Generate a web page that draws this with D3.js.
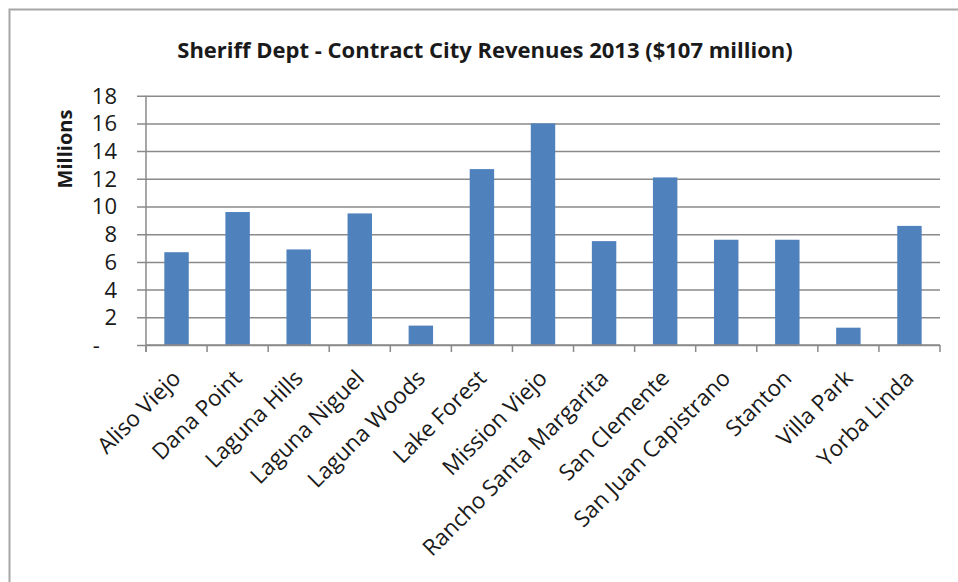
<!DOCTYPE html>
<html>
<head>
<meta charset="utf-8">
<script src="https://cdn.jsdelivr.net/npm/d3@7"></script>
<style>
  html, body { margin: 0; padding: 0; background: #fff; }
  svg { display: block; }
  text { font-family: "Open Sans", "Noto Sans", sans-serif; fill: #1a1a1a; }
</style>
</head>
<body>
<svg id="chart" width="958" height="582"></svg>
<script>
// Contract city revenues, in millions of dollars
const cities = [
  "Aliso Viejo", "Dana Point", "Laguna Hills", "Laguna Niguel", "Laguna Woods",
  "Lake Forest", "Mission Viejo", "Rancho Santa Margarita", "San Clemente",
  "San Juan Capistrano", "Stanton", "Villa Park", "Yorba Linda"
];
const revenues = [6.7, 9.6, 6.9, 9.5, 1.4, 12.7, 16.0, 7.5, 12.1, 7.6, 7.6, 1.25, 8.6];
const yTicks = [0, 2, 4, 6, 8, 10, 12, 14, 16, 18];
const yTickLabels = ["-", "2", "4", "6", "8", "10", "12", "14", "16", "18"];

const titleText = "Sheriff Dept - Contract City Revenues 2013 ($107 million)";
const yTitleText = "Millions";

const W = 958, H = 582;
const plot = { left: 146, right: 940, top: 95.7, bottom: 345 };
const gridColor = "#8a8a8a";
const barColor = "#4f81bd";

const svg = d3.select("#chart");

// outer chart frame (runs off the right and bottom edges)
svg.append("path")
  .attr("d", `M9.5,${H + 2} V9.5 H${W + 2}`)
  .attr("fill", "none")
  .attr("stroke", "#a6a6a6")
  .attr("stroke-width", 2);

const x = d3.scaleBand()
  .domain(cities)
  .range([plot.left, plot.right])
  .paddingInner(0.6)
  .paddingOuter(0.3);

const y = d3.scaleLinear()
  .domain([0, 18])
  .range([plot.bottom, plot.top]);

// horizontal gridlines, extended left past the axis as tick marks
const yAxis = d3.axisLeft(y)
  .tickValues(yTicks)
  .tickSize(plot.right - plot.left + 9)
  .tickFormat("");

const gy = svg.append("g")
  .attr("transform", `translate(${plot.right},0)`)
  .call(yAxis);
gy.select(".domain").remove();
gy.selectAll(".tick line")
  .attr("stroke", gridColor)
  .attr("stroke-width", 1.5);

// y tick labels
svg.append("g")
  .selectAll("text")
  .data(yTicks)
  .join("text")
  .attr("x", 117)
  .attr("y", d => y(d))
  .attr("dy", "0.36em")
  .attr("text-anchor", "end")
  .attr("font-size", 22)
  .text((d, i) => i === 0 ? yTickLabels[i] + "\u00a0\u00a0\u00a0" : yTickLabels[i]);

// bars
svg.append("g")
  .selectAll("rect")
  .data(revenues)
  .join("rect")
  .attr("x", (d, i) => x(cities[i]))
  .attr("y", d => y(d))
  .attr("width", x.bandwidth())
  .attr("height", d => y(0) - y(d))
  .attr("fill", barColor);

// category axis: baseline plus boundary tick marks
const step = x.step();
const boundaries = d3.range(cities.length + 1).map(i => plot.left + i * step);
svg.append("line")
  .attr("x1", plot.left).attr("x2", plot.right)
  .attr("y1", plot.bottom).attr("y2", plot.bottom)
  .attr("stroke", gridColor).attr("stroke-width", 1.5);
svg.append("g")
  .selectAll("line")
  .data(boundaries)
  .join("line")
  .attr("x1", d => d).attr("x2", d => d)
  .attr("y1", plot.bottom).attr("y2", plot.bottom + 7)
  .attr("stroke", gridColor).attr("stroke-width", 1.5);

// value axis line
svg.append("line")
  .attr("x1", plot.left).attr("x2", plot.left)
  .attr("y1", plot.top).attr("y2", plot.bottom + 7)
  .attr("stroke", gridColor).attr("stroke-width", 1.5);

// rotated category labels
svg.append("g")
  .selectAll("text")
  .data(cities)
  .join("text")
  .attr("transform", d => `translate(${x(d) + x.bandwidth() / 2},374) rotate(-45)`)
  .attr("dy", 8)
  .attr("text-anchor", "end")
  .attr("font-size", 22.5)
  .text(d => d);

// title
svg.append("text")
  .attr("x", 485)
  .attr("y", 58)
  .attr("text-anchor", "middle")
  .attr("font-size", 22)
  .attr("font-weight", "bold")
  .text(titleText);

// value axis title
svg.append("text")
  .attr("transform", "translate(72,149) rotate(-90)")
  .attr("text-anchor", "middle")
  .attr("font-size", 20)
  .attr("font-weight", "bold")
  .text(yTitleText);
</script>
</body>
</html>
